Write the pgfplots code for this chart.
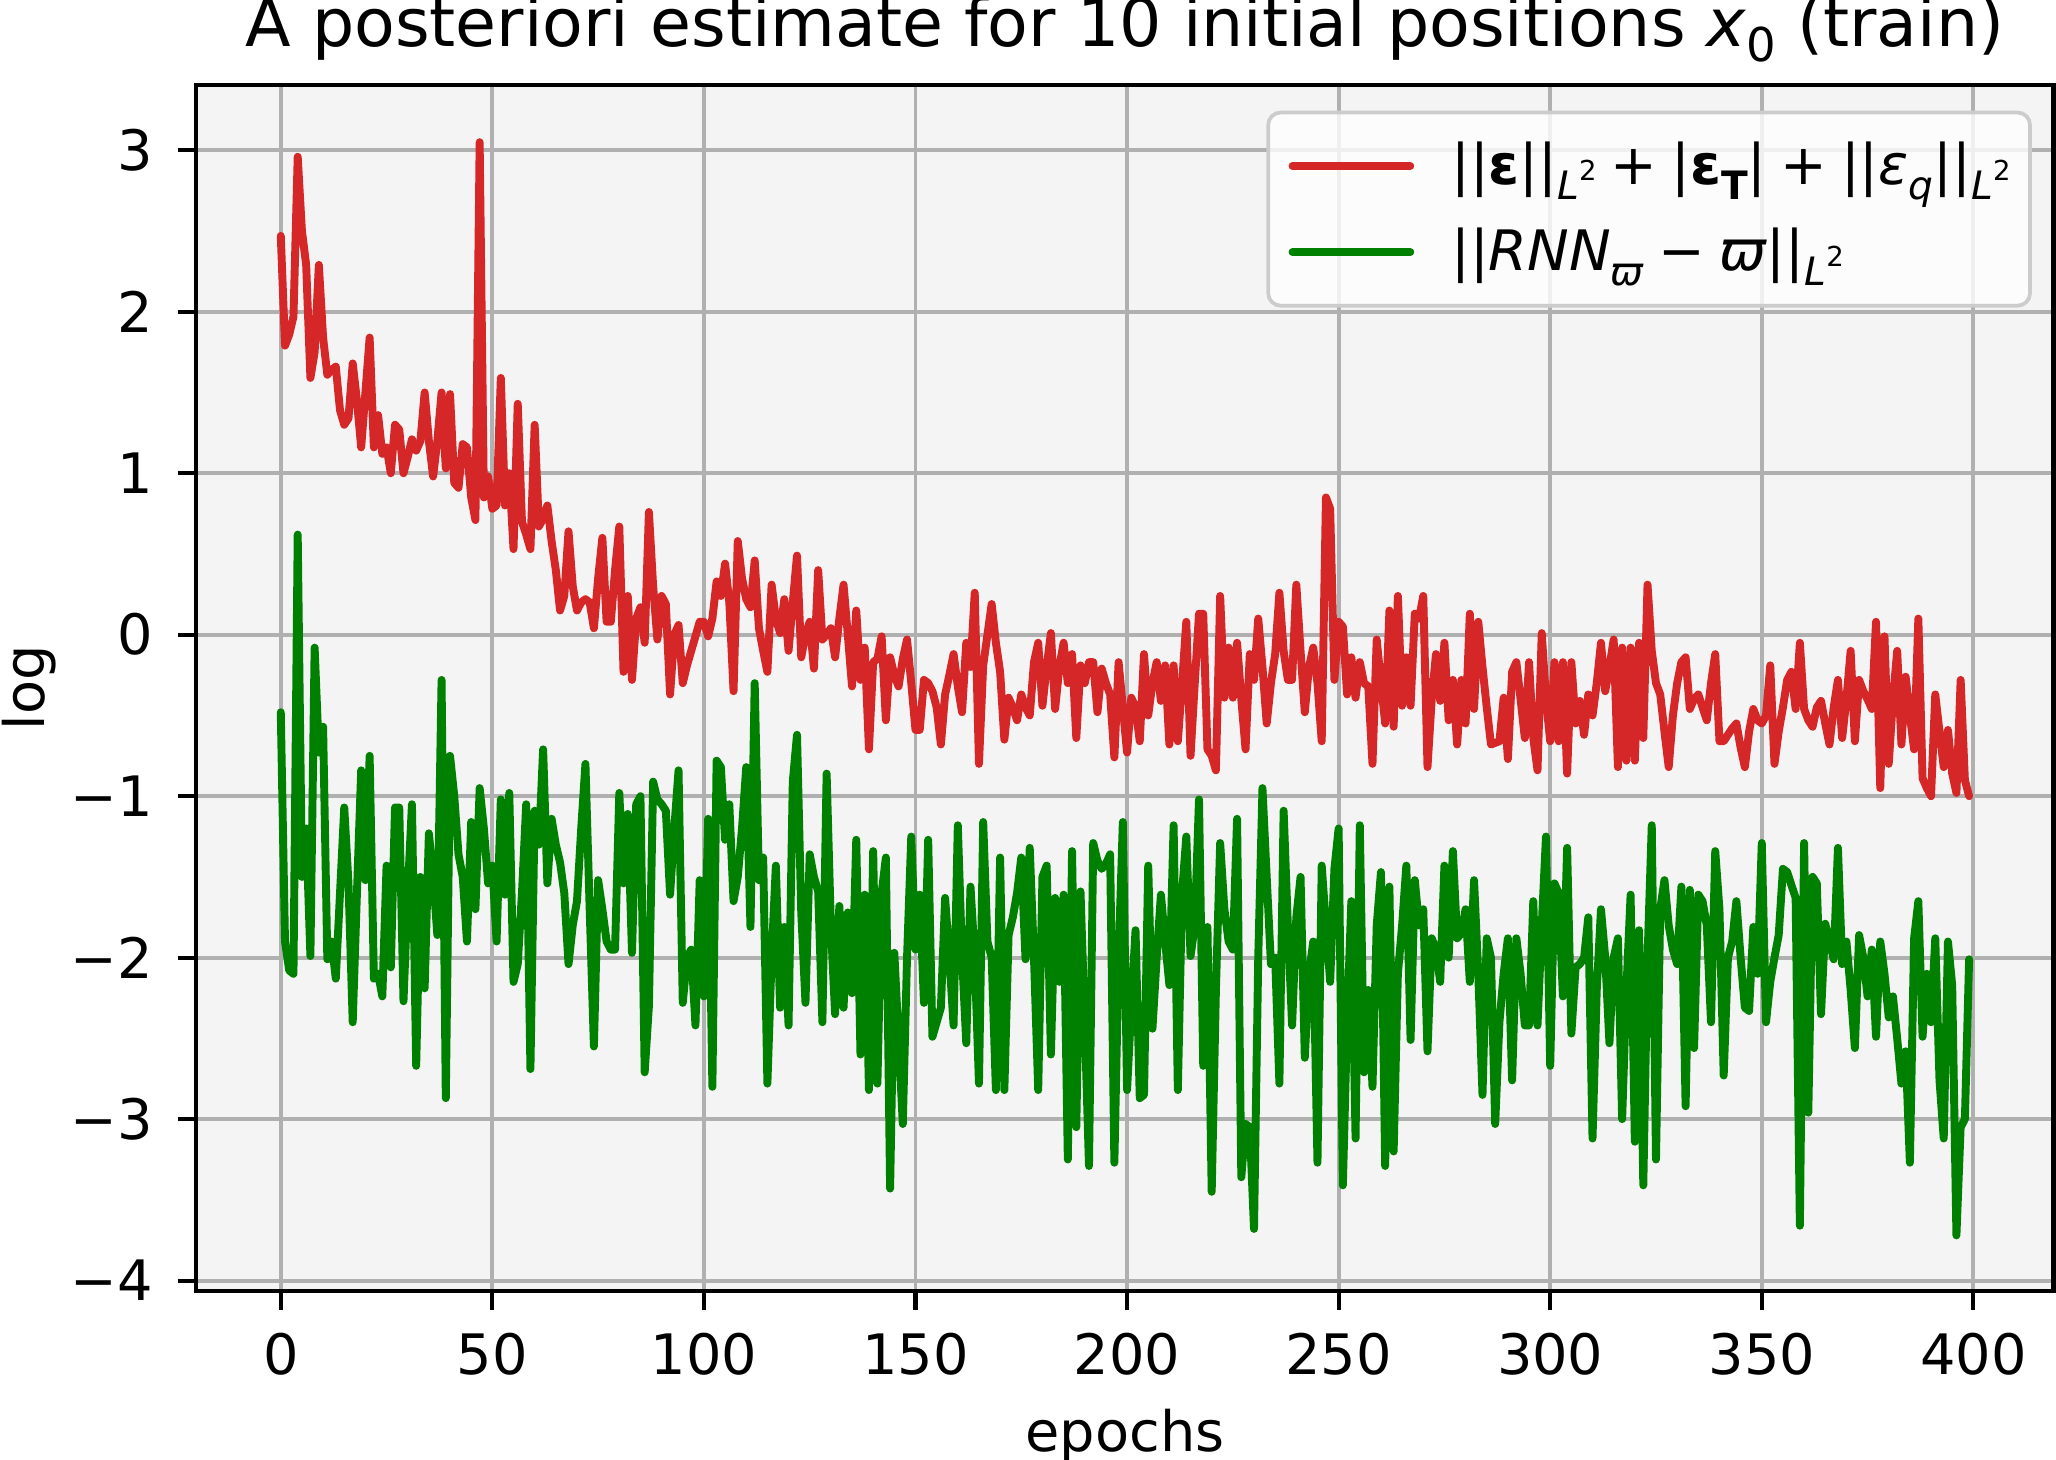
\documentclass[border=0pt]{standalone}
\usepackage{pgfplots}
\pgfplotsset{compat=1.18}
\usepackage{pgfplotstable}
\usepackage{fontspec}
\setmainfont{DejaVu Sans}
\definecolor{tabred}{HTML}{D62728}
\definecolor{mplgreen}{HTML}{008000}
\definecolor{gridgray}{HTML}{B0B0B0}
\definecolor{bggray}{HTML}{F4F4F4}
\definecolor{leggray}{HTML}{CCCCCC}
\newcommand{\lsub}[1]{\raisebox{-0.28em}{\fontsize{9.4}{9.4}\selectfont #1}}
\newcommand{\lsup}[1]{\raisebox{0.5em}{\fontsize{6.6}{6.6}\selectfont #1}}
\newcommand{\lbl}{\fontsize{13.4}{16}\selectfont}

\pgfplotstableread[row sep=\\]{
r\\
2.47\\ 1.79\\ 1.86\\ 1.97\\ 2.96\\ 2.50\\ 2.29\\ 1.59\\ 1.75\\ 2.29\\
1.84\\ 1.61\\ 1.64\\ 1.66\\ 1.39\\ 1.30\\ 1.34\\ 1.68\\ 1.45\\ 1.16\\
1.50\\ 1.84\\ 1.16\\ 1.36\\ 1.12\\ 1.16\\ 1.00\\ 1.30\\ 1.27\\ 1.00\\
1.10\\ 1.21\\ 1.14\\ 1.20\\ 1.50\\ 1.20\\ 0.98\\ 1.20\\ 1.50\\ 1.03\\
1.49\\ 0.94\\ 0.91\\ 1.18\\ 1.16\\ 0.85\\ 0.71\\ 3.05\\ 0.85\\ 0.98\\
0.78\\ 0.80\\ 1.59\\ 0.80\\ 1.00\\ 0.53\\ 1.43\\ 0.70\\ 0.62\\ 0.53\\
1.30\\ 0.67\\ 0.72\\ 0.80\\ 0.58\\ 0.40\\ 0.15\\ 0.24\\ 0.64\\ 0.30\\
0.15\\ 0.20\\ 0.22\\ 0.20\\ 0.04\\ 0.35\\ 0.60\\ 0.08\\ 0.08\\ 0.40\\
0.67\\ -0.23\\ 0.24\\ -0.28\\ 0.10\\ 0.17\\ -0.05\\ 0.76\\ 0.30\\ -0.03\\
0.24\\ 0.19\\ -0.37\\ 0.00\\ 0.06\\ -0.30\\ -0.19\\ -0.10\\ -0.01\\ 0.08\\
0.08\\ -0.01\\ 0.10\\ 0.33\\ 0.24\\ 0.44\\ 0.20\\ -0.35\\ 0.58\\ 0.35\\
0.22\\ 0.17\\ 0.46\\ 0.04\\ -0.10\\ -0.23\\ 0.31\\ 0.10\\ 0.01\\ 0.22\\
-0.10\\ 0.20\\ 0.49\\ -0.14\\ 0.00\\ 0.08\\ -0.21\\ 0.40\\ -0.03\\ 0.00\\
0.04\\ -0.14\\ 0.10\\ 0.31\\ 0.00\\ -0.32\\ 0.15\\ -0.28\\ -0.08\\ -0.71\\
-0.17\\ -0.15\\ -0.01\\ -0.53\\ -0.14\\ -0.25\\ -0.32\\ -0.15\\ -0.03\\ -0.30\\
-0.59\\ -0.59\\ -0.28\\ -0.30\\ -0.35\\ -0.45\\ -0.68\\ -0.37\\ -0.25\\ -0.12\\
-0.32\\ -0.48\\ -0.05\\ -0.20\\ 0.26\\ -0.80\\ -0.19\\ 0.00\\ 0.19\\ -0.05\\
-0.23\\ -0.65\\ -0.39\\ -0.45\\ -0.53\\ -0.37\\ -0.45\\ -0.50\\ -0.17\\ -0.05\\
-0.44\\ -0.20\\ 0.01\\ -0.46\\ -0.20\\ -0.05\\ -0.30\\ -0.12\\ -0.64\\ -0.19\\
-0.30\\ -0.17\\ -0.17\\ -0.48\\ -0.21\\ -0.30\\ -0.37\\ -0.76\\ -0.17\\ -0.45\\
-0.73\\ -0.39\\ -0.45\\ -0.66\\ -0.12\\ -0.50\\ -0.30\\ -0.17\\ -0.41\\ -0.19\\
-0.68\\ -0.19\\ -0.66\\ -0.30\\ 0.08\\ -0.75\\ -0.30\\ 0.13\\ 0.13\\ -0.71\\
-0.75\\ -0.84\\ 0.24\\ -0.39\\ -0.08\\ -0.39\\ -0.05\\ -0.40\\ -0.71\\ -0.12\\
-0.28\\ 0.10\\ -0.20\\ -0.55\\ -0.30\\ -0.12\\ 0.26\\ -0.10\\ -0.28\\ -0.28\\
0.31\\ -0.10\\ -0.48\\ -0.20\\ -0.08\\ -0.30\\ -0.66\\ 0.85\\ 0.78\\ -0.28\\
0.08\\ 0.05\\ -0.37\\ -0.14\\ -0.39\\ -0.17\\ -0.30\\ -0.32\\ -0.80\\ -0.03\\
-0.30\\ -0.55\\ 0.15\\ -0.57\\ 0.24\\ -0.44\\ -0.14\\ -0.44\\ 0.13\\ 0.10\\
0.24\\ -0.82\\ -0.40\\ -0.12\\ -0.41\\ -0.05\\ -0.53\\ -0.28\\ -0.68\\ -0.28\\
-0.55\\ 0.13\\ -0.46\\ 0.08\\ -0.20\\ -0.45\\ -0.68\\ -0.67\\ -0.66\\ -0.39\\
-0.77\\ -0.23\\ -0.17\\ -0.40\\ -0.64\\ -0.17\\ -0.64\\ -0.84\\ 0.01\\ -0.40\\
-0.66\\ -0.17\\ -0.66\\ -0.17\\ -0.86\\ -0.17\\ -0.55\\ -0.41\\ -0.62\\ -0.37\\
-0.50\\ -0.30\\ -0.05\\ -0.35\\ -0.20\\ -0.03\\ -0.82\\ -0.08\\ -0.78\\ -0.08\\
-0.78\\ -0.05\\ -0.64\\ 0.31\\ -0.10\\ -0.30\\ -0.37\\ -0.60\\ -0.82\\ -0.50\\
-0.30\\ -0.17\\ -0.14\\ -0.46\\ -0.40\\ -0.37\\ -0.45\\ -0.53\\ -0.30\\ -0.12\\
-0.66\\ -0.66\\ -0.62\\ -0.58\\ -0.55\\ -0.70\\ -0.82\\ -0.60\\ -0.46\\ -0.53\\
-0.55\\ -0.50\\ -0.19\\ -0.80\\ -0.60\\ -0.45\\ -0.28\\ -0.23\\ -0.46\\ -0.05\\
-0.46\\ -0.53\\ -0.57\\ -0.45\\ -0.41\\ -0.55\\ -0.68\\ -0.45\\ -0.28\\ -0.64\\
-0.40\\ -0.10\\ -0.66\\ -0.28\\ -0.35\\ -0.40\\ -0.46\\ 0.08\\ -0.95\\ -0.01\\
-0.80\\ -0.40\\ -0.10\\ -0.68\\ -0.26\\ -0.50\\ -0.71\\ 0.10\\ -0.89\\ -0.95\\
-1.00\\ -0.37\\ -0.60\\ -0.82\\ -0.59\\ -0.86\\ -0.98\\ -0.28\\ -0.90\\ -1.00\\
}\redtab

\pgfplotstableread[row sep=\\]{
g\\
-0.48\\ -1.90\\ -2.08\\ -2.10\\ 0.62\\ -1.50\\ -1.20\\ -1.99\\ -0.08\\ -0.73\\
-0.57\\ -2.01\\ -1.90\\ -2.13\\ -1.60\\ -1.07\\ -1.54\\ -2.40\\ -1.60\\ -0.84\\
-1.52\\ -0.75\\ -2.13\\ -2.10\\ -2.24\\ -1.43\\ -2.06\\ -1.07\\ -1.07\\ -2.27\\
-1.60\\ -1.05\\ -2.67\\ -1.50\\ -2.19\\ -1.23\\ -1.50\\ -1.86\\ -0.28\\ -2.87\\
-0.75\\ -1.00\\ -1.36\\ -1.50\\ -1.90\\ -1.16\\ -1.70\\ -0.95\\ -1.20\\ -1.54\\
-1.43\\ -1.90\\ -1.02\\ -1.61\\ -0.98\\ -2.15\\ -2.04\\ -1.60\\ -1.05\\ -2.69\\
-1.09\\ -1.30\\ -0.71\\ -1.54\\ -1.14\\ -1.30\\ -1.41\\ -1.60\\ -2.04\\ -1.80\\
-1.65\\ -1.20\\ -0.80\\ -1.70\\ -2.55\\ -1.52\\ -1.70\\ -1.90\\ -1.95\\ -1.95\\
-0.98\\ -1.54\\ -1.11\\ -1.97\\ -1.05\\ -1.00\\ -2.71\\ -2.30\\ -0.91\\ -1.02\\
-1.05\\ -1.09\\ -1.61\\ -1.20\\ -0.84\\ -2.28\\ -2.00\\ -1.95\\ -2.42\\ -1.52\\
-2.24\\ -1.14\\ -2.80\\ -0.78\\ -0.82\\ -1.27\\ -1.05\\ -1.65\\ -1.50\\ -1.20\\
-0.82\\ -1.81\\ -0.30\\ -1.52\\ -1.38\\ -2.78\\ -2.00\\ -1.43\\ -2.31\\ -1.81\\
-2.42\\ -0.91\\ -0.62\\ -1.72\\ -2.28\\ -1.36\\ -1.50\\ -1.59\\ -2.40\\ -0.86\\
-1.80\\ -2.35\\ -1.68\\ -2.31\\ -1.72\\ -2.22\\ -1.27\\ -2.60\\ -1.61\\ -2.82\\
-1.34\\ -2.78\\ -1.60\\ -1.38\\ -3.43\\ -1.97\\ -2.50\\ -3.03\\ -2.00\\ -1.25\\
-1.95\\ -1.61\\ -2.28\\ -1.27\\ -2.49\\ -2.40\\ -2.31\\ -1.63\\ -2.00\\ -2.42\\
-1.18\\ -1.99\\ -2.53\\ -1.56\\ -2.00\\ -2.78\\ -1.16\\ -1.90\\ -2.00\\ -2.82\\
-1.38\\ -2.82\\ -1.86\\ -1.75\\ -1.60\\ -1.38\\ -2.01\\ -1.32\\ -2.00\\ -2.82\\
-1.50\\ -1.43\\ -2.60\\ -1.63\\ -2.15\\ -1.61\\ -3.25\\ -1.34\\ -3.05\\ -1.59\\
-2.40\\ -3.29\\ -1.29\\ -1.40\\ -1.45\\ -1.42\\ -1.36\\ -3.27\\ -2.00\\ -1.16\\
-2.82\\ -2.30\\ -1.83\\ -2.87\\ -2.85\\ -1.43\\ -2.44\\ -2.00\\ -1.61\\ -1.90\\
-2.17\\ -1.18\\ -2.82\\ -1.60\\ -1.25\\ -1.99\\ -1.80\\ -1.02\\ -2.67\\ -1.81\\
-3.45\\ -2.20\\ -1.29\\ -1.70\\ -1.90\\ -1.95\\ -1.14\\ -3.36\\ -3.03\\ -3.05\\
-3.68\\ -2.00\\ -0.95\\ -1.50\\ -2.04\\ -2.00\\ -2.78\\ -1.09\\ -1.80\\ -2.42\\
-1.75\\ -1.50\\ -2.62\\ -2.10\\ -1.90\\ -3.27\\ -1.43\\ -1.80\\ -2.15\\ -1.45\\
-1.20\\ -3.41\\ -2.40\\ -1.65\\ -3.12\\ -1.18\\ -2.71\\ -2.20\\ -2.80\\ -1.80\\
-1.47\\ -3.29\\ -1.56\\ -3.20\\ -2.10\\ -1.80\\ -1.43\\ -2.51\\ -1.52\\ -1.80\\
-1.70\\ -2.58\\ -1.88\\ -1.95\\ -2.15\\ -1.43\\ -2.00\\ -1.34\\ -1.88\\ -1.85\\
-1.70\\ -2.15\\ -1.52\\ -2.10\\ -2.85\\ -1.88\\ -2.00\\ -3.03\\ -2.40\\ -2.10\\
-1.88\\ -2.76\\ -1.88\\ -2.10\\ -2.42\\ -2.42\\ -1.65\\ -2.42\\ -1.80\\ -1.25\\
-2.67\\ -1.54\\ -1.60\\ -2.24\\ -1.32\\ -2.47\\ -2.06\\ -2.04\\ -2.00\\ -1.75\\
-3.12\\ -2.20\\ -1.70\\ -2.00\\ -2.53\\ -2.00\\ -1.88\\ -3.00\\ -2.20\\ -1.61\\
-3.14\\ -1.83\\ -3.41\\ -2.00\\ -1.18\\ -3.25\\ -1.70\\ -1.52\\ -1.80\\ -1.95\\
-2.04\\ -1.56\\ -2.92\\ -1.58\\ -2.56\\ -1.61\\ -1.65\\ -1.80\\ -2.40\\ -1.34\\
-1.70\\ -2.73\\ -2.00\\ -1.90\\ -1.65\\ -2.00\\ -2.31\\ -2.33\\ -1.81\\ -2.10\\
-1.29\\ -2.40\\ -2.15\\ -2.00\\ -1.86\\ -1.45\\ -1.47\\ -1.55\\ -1.63\\ -3.66\\
-1.29\\ -2.96\\ -1.50\\ -1.54\\ -2.35\\ -1.79\\ -1.90\\ -2.01\\ -1.32\\ -2.04\\
-1.90\\ -2.20\\ -2.56\\ -1.86\\ -2.00\\ -2.24\\ -1.95\\ -2.49\\ -1.90\\ -2.10\\
-2.37\\ -2.24\\ -2.50\\ -2.78\\ -2.58\\ -3.27\\ -1.88\\ -1.65\\ -2.49\\ -2.10\\
-2.40\\ -1.88\\ -2.76\\ -3.12\\ -1.90\\ -2.17\\ -3.72\\ -3.05\\ -3.00\\ -2.01\\
}\greentab

\begin{document}
\begin{tikzpicture}
\begin{axis}[
  scale only axis,
  width=446.4pt, height=289.9pt,
  xmin=-19.95, xmax=418.95, ymin=-4.064, ymax=3.405,
  xtick={0,50,100,150,200,250,300,350,400},
  xticklabels={0,50,100,150,200,250,300,350,400},
  ytick={-4,-3,-2,-1,0,1,2,3},
  yticklabels={−4,−3,−2,−1,0,1,2,3},
  xtick pos=bottom, ytick pos=left,
  tick align=outside, major tick length=4.5pt,
  tick style={black, line width=1pt},
  axis line style={black, line width=1pt},
  grid=major,
  major grid style={gridgray, line width=0.95pt},
  axis background/.style={fill=bggray},
  tick label style={font=\lbl, inner sep=0pt},
  xticklabel style={anchor=north, yshift=-5.4pt},
  yticklabel style={anchor=east, xshift=-5.7pt},
  title={A posteriori estimate for 10 initial positions \textit{x}\raisebox{-0.22em}{\fontsize{11.2}{11.2}\selectfont 0} (train)},
  title style={font=\fontsize{16}{19}\selectfont, at={([yshift=13.4pt]axis description cs:0.5,1)}, anchor=center, yshift=-6pt, inner sep=0pt},
  xlabel={epochs},
  xlabel style={font=\lbl, at={([yshift=-35pt]axis description cs:0.5,0)}, anchor=center, inner sep=0pt},
  ylabel={log},
  ylabel style={font=\lbl, at={([xshift=-40.3pt]axis description cs:0,0.5)}, anchor=center, inner sep=0pt},
  legend style={at={(1,1)}, anchor=north east, xshift=-5.2pt, yshift=-6.2pt,
    draw=leggray, line width=0.9pt, fill=white, fill opacity=0.8, text opacity=1,
    rounded corners=3pt, font=\lbl, inner xsep=2.7pt, inner ysep=5pt,
    row sep=4.95pt, column sep=6.9pt, nodes={inner sep=2pt}, cells={anchor=west}},
  legend image code/.code={\path (0pt,0pt); \draw[#1] (2.2pt,0pt) -- (30.5pt,0pt);},
  every axis plot/.append style={line width=1.9pt, line join=round, line cap=round},
]
\coordinate (SW) at (rel axis cs:0,0);
\coordinate (NE) at (rel axis cs:1,1);
\addplot[tabred] table[x expr=\coordindex, y=r] {\redtab};
\addlegendentry{||\textbf{ε}||\lsub{\textit{L}\lsup{2}}\hspace{0.25em}+\hspace{0.25em}|\textbf{ε}\lsub{\textbf{T}}|\hspace{0.25em}+\hspace{0.25em}||\textit{ε}\lsub{\textit{q}}||\lsub{\textit{L}\lsup{2}}}
\addplot[mplgreen] table[x expr=\coordindex, y=g] {\greentab};
\addlegendentry{||\textit{RNN}\lsub{\textit{ϖ}}\hspace{0.25em}−\hspace{0.25em}\textit{ϖ}||\lsub{\textit{L}\lsup{2}}}
\end{axis}
\pgfresetboundingbox
\path[use as bounding box] ([shift={(-47.2pt,-40.6pt)}]SW) rectangle ([shift={(0.6pt,20.4pt)}]NE);
\end{tikzpicture}
\end{document}
